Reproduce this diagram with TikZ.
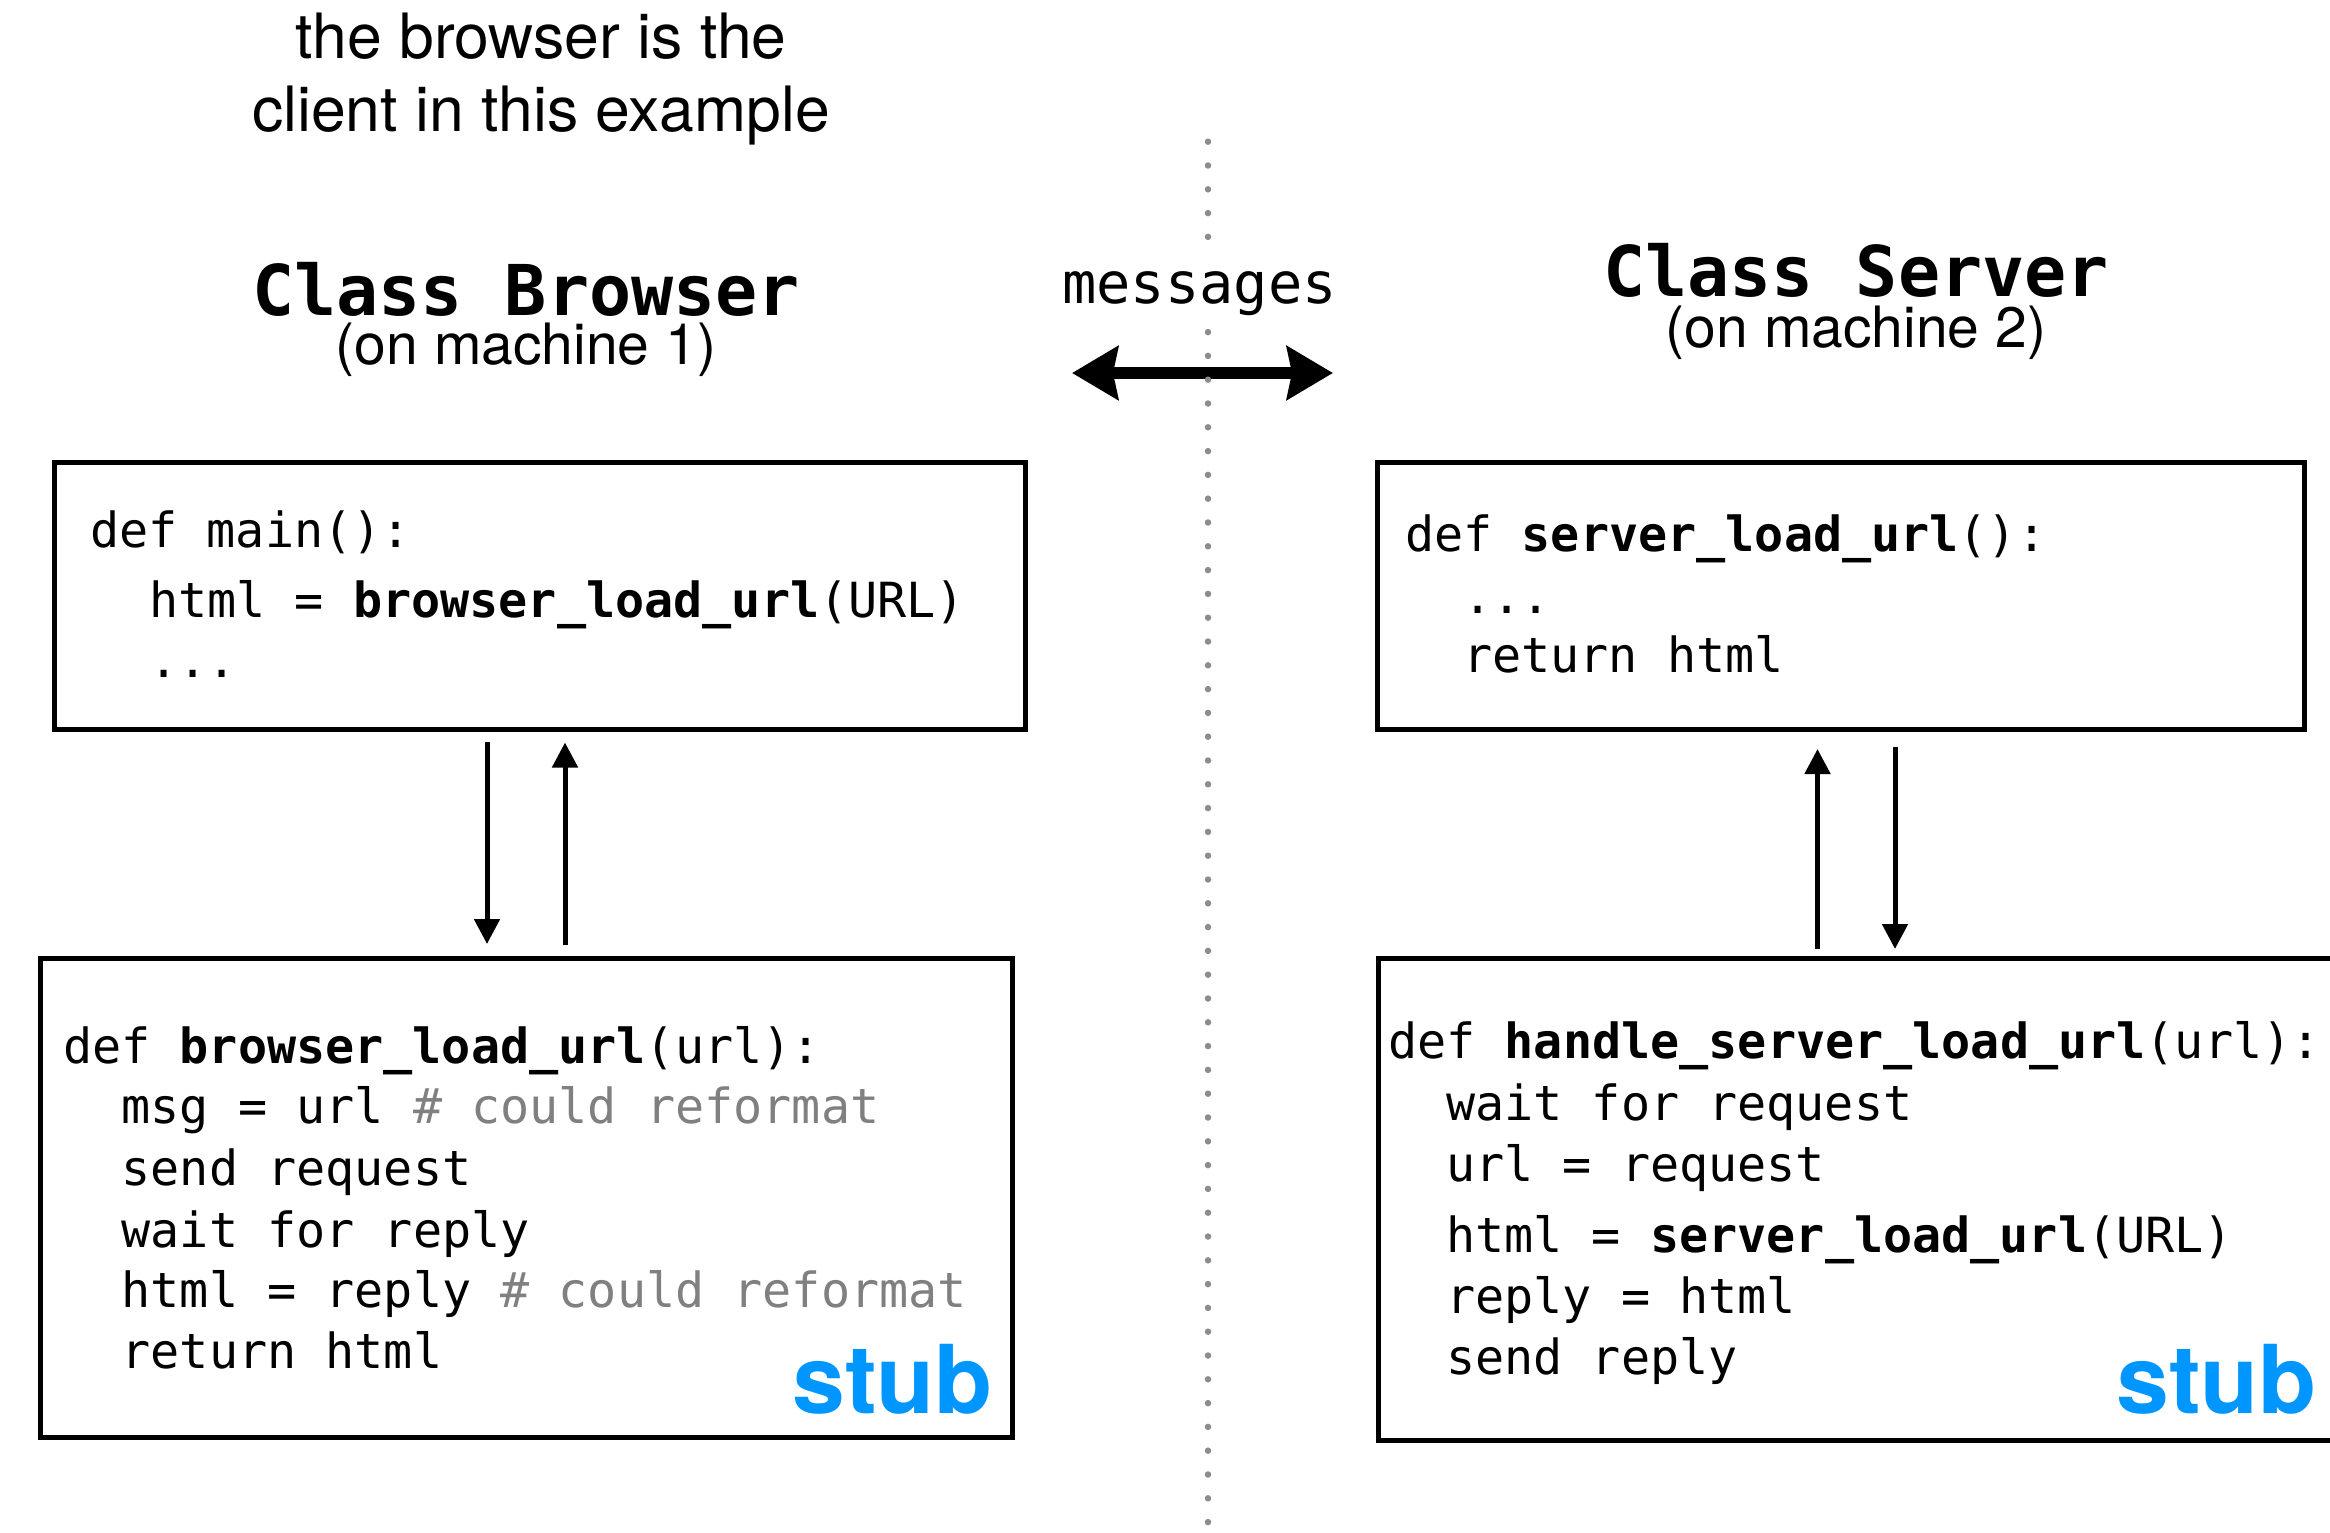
\documentclass[tikz,border=0pt]{standalone}
\usepackage{fontspec}
\setmainfont{TeX Gyre Heros}
\newfontfamily\codefont{DejaVu Sans Mono}
\usetikzlibrary{arrows.meta,calc}
\definecolor{stubblue}{RGB}{0,150,255}
\definecolor{commentgray}{RGB}{128,128,128}
\definecolor{dotgray}{RGB}{140,140,140}
\begin{document}
\begin{tikzpicture}[x=1pt,y=-1pt,
  box/.style={draw=black,line width=5pt,rectangle,inner sep=0pt},
  code/.style={anchor=base west,inner sep=0pt,font=\codefont\fontsize{48.4}{58}\selectfont},
  clsname/.style={anchor=base,inner sep=0pt,font=\codefont\bfseries\fontsize{70}{84}\selectfont},
  machine/.style={anchor=base,inner sep=0pt,font=\fontsize{57}{66}\selectfont},
  titletext/.style={anchor=base,inner sep=0pt,font=\fontsize{62.5}{74}\selectfont},
  stublabel/.style={anchor=base east,inner sep=0pt,text=stubblue,font=\bfseries\fontsize{95}{110}\selectfont},
  arr/.style={line width=5pt,-{Triangle[length=25pt,width=25pt]}},
  msgarrow/.style={line width=12pt,{Stealth[length=46pt,width=53pt,inset=5pt]}-{Stealth[length=46pt,width=53pt,inset=5pt]}},
  divider/.style={dotgray,line width=6.5pt,line cap=round,dash pattern=on 0pt off 23.8pt}]
\useasboundingbox (0,0) rectangle (2330,1533);
\fill[white] (0,0) rectangle (2330,1533);
\clip (0,0) rectangle (2330,1533);

% titles
\node[titletext] (title1) at (541,59) {the browser is the};
\node[titletext] (title2) at (541,132) {client in this example};
\node[clsname] (clsB) at (526,315) {Class Browser};
\node[machine] (mach1) at (526,364) {(on machine 1)};
\node[clsname] (clsS) at (1856,297) {Class Server};
\node[machine] (mach2) at (1856,347) {(on machine 2)};

% boxes
\node[box,minimum width=971pt,minimum height=267.5pt] (boxA) at (539.5,595.75) {};
\node[box,minimum width=971.5pt,minimum height=479.5pt] (boxB) at (526.25,1197.75) {};
\node[box,minimum width=927pt,minimum height=267pt] (boxC) at (1840.5,595.5) {};
\node[box,minimum width=1022pt,minimum height=482pt] (boxD) at (1889,1199) {};

% code in box A
\node[code] (cA1) at (90,547) {def main():};
\node[code] (cA2) at (149,617) {html = {\bfseries browser\_load\_url}(URL)};
\node[code] (cA3) at (149,677) {...};

% code in box B
\node[code] (cB1) at (63,1063) {def {\bfseries browser\_load\_url}(url):};
\node[code] (cB2) at (121.5,1123) {msg = url \textcolor{commentgray}{\# could reformat}};
\node[code] (cB3) at (121.5,1185) {send request};
\node[code] (cB4) at (121.5,1247) {wait for reply};
\node[code] (cB5) at (121.5,1307) {html = reply \textcolor{commentgray}{\# could reformat}};
\node[code] (cB6) at (121.5,1368) {return html};
\node[stublabel] (stubB) at (993,1413) {stub};

% code in box C
\node[code] (cC1) at (1405,551) {def {\bfseries server\_load\_url}():};
\node[code] (cC2) at (1463,613) {...};
\node[code] (cC3) at (1463,672) {return html};

% code in box D
\node[code] (cD1) at (1388,1058) {def {\bfseries handle\_server\_load\_url}(url):};
\node[code] (cD2) at (1446,1120) {wait for request};
\node[code] (cD3) at (1446,1181) {url = request};
\node[code] (cD4) at (1446,1252) {html = {\bfseries server\_load\_url}(URL)};
\node[code] (cD5) at (1446,1313) {reply = html};
\node[code] (cD6) at (1446,1374) {send reply};
\node[stublabel] (stubD) at (2317,1413) {stub};

% vertical arrows
\coordinate (xl1) at (487,0);
\coordinate (xl2) at (565,0);
\coordinate (xr1) at (1817.5,0);
\coordinate (xr2) at (1895,0);
\draw[arr,shorten <=10pt,shorten >=11.5pt] (boxA.south -| xl1) -- (boxB.north -| xl1);
\draw[arr,shorten <=10.5pt,shorten >=10.5pt] (boxB.north -| xl2) -- (boxA.south -| xl2);
\draw[arr,shorten <=6.5pt,shorten >=17.5pt] (boxD.north -| xr1) -- (boxC.south -| xr1);
\draw[arr,shorten <=15.5pt,shorten >=6.5pt] (boxC.south -| xr2) -- (boxD.north -| xr2);

% messages arrow and divider
\coordinate (mL) at (1072,373);
\coordinate (mR) at (1333,373);
\draw[msgarrow] (mL) -- (mR);
\coordinate (dTop) at (1208,141.7);
\coordinate (dBot) at (1208,1545);
\draw[divider] (dTop) -- (dBot);
\node[anchor=base,fill=white,inner xsep=2pt,inner ysep=2pt,text height=47pt,text depth=14pt,font=\codefont\fontsize{57}{68}\selectfont] (msgs) at (1199.5,303) {messages};
\end{tikzpicture}
\end{document}
